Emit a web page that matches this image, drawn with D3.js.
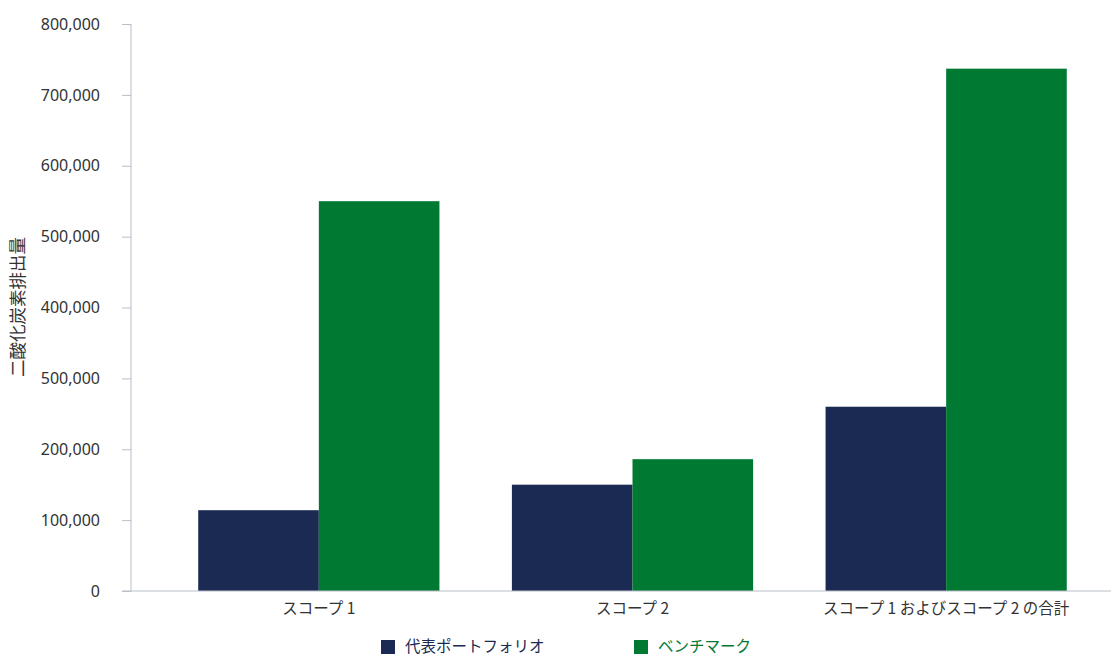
<!DOCTYPE html>
<html lang="ja">
<head>
  <meta charset="UTF-8">
  <title>二酸化炭素排出量</title>
  <script src="https://d3js.org/d3.v7.min.js"></script>
  <style>
    body { margin: 0; background: #fff; }
    svg { font-family: "Noto Sans CJK JP", "Noto Sans", sans-serif; }
    .tick text { fill: #333; font-size: 15.5px; font-family: "Noto Sans", "Noto Sans CJK JP", sans-serif; }
    .y-axis .tick text { font-size: 16px; }
  </style>
</head>
<body>
<svg id="chart" width="1112" height="656"></svg>

<script>
  // Categories, series and values
  const categories = ["スコープ 1", "スコープ 2", "スコープ 1 およびスコープ 2 の合計"];
  const seriesNames = ["代表ポートフォリオ", "ベンチマーク"];
  const portfolio = [114000, 150000, 260000];
  const benchmark = [550000, 186000, 737000];
  const tickValues = [0, 100000, 200000, 300000, 400000, 500000, 600000, 700000, 800000];
  // the 300,000 tick is labelled "500,000" in the original
  const tickLabels = ["0", "100,000", "200,000", "500,000", "400,000", "500,000", "600,000", "700,000", "800,000"];
  const colors = ["#1a2a52", "#007a33"];

  const svg = d3.select("#chart");

  const y = d3.scaleLinear().domain([0, 800000]).range([591, 24]);

  const x0 = d3.scaleBand()
    .domain(categories)
    .range([162, 1103])
    .paddingInner(0.231)
    .paddingOuter(0.1155);

  const x1 = d3.scaleBand()
    .domain(seriesNames)
    .range([0, x0.bandwidth()]);

  // y axis
  const yAxis = svg.append("g")
    .attr("class", "y-axis")
    .attr("transform", "translate(131,0)")
    .call(d3.axisLeft(y).tickValues(tickValues)
      .tickFormat((d, i) => tickLabels[i]).tickSize(9).tickPadding(22));
  yAxis.selectAll("line, path").attr("stroke", "#b8bec8");
  yAxis.select(".domain").attr("d", "M0,24V591");

  // bars
  const rows = categories.map((c, i) => ({ cat: c, vals: [portfolio[i], benchmark[i]] }));
  svg.append("g")
    .selectAll("g")
    .data(rows)
    .join("g")
    .attr("transform", d => `translate(${x0(d.cat)},0)`)
    .selectAll("rect")
    .data(d => d.vals.map((v, j) => ({ name: seriesNames[j], v: v, j: j })))
    .join("rect")
    .attr("x", d => x1(d.name))
    .attr("width", x1.bandwidth())
    .attr("y", d => y(d.v))
    .attr("height", d => y(0) - y(d.v))
    .attr("fill", d => colors[d.j]);

  // baseline / x axis
  const xAxis = svg.append("g")
    .attr("transform", "translate(0,591)")
    .call(d3.axisBottom(x0).tickSize(0).tickPadding(12));
  xAxis.selectAll(".tick text").style("font-family", "\"Noto Sans CJK JP\", sans-serif");
  xAxis.select(".domain").attr("d", "M122,0H1111").attr("stroke", "#b8bec8");

  // y axis title
  svg.append("text")
    .attr("transform", "translate(24,307) rotate(-90)")
    .attr("text-anchor", "middle")
    .attr("fill", "#333")
    .attr("font-size", 17.5)
    .text("二酸化炭素排出量");

  // legend
  const legendX = [381, 634];
  const legend = svg.append("g")
    .selectAll("g")
    .data(seriesNames)
    .join("g")
    .attr("transform", (d, i) => `translate(${legendX[i]},640)`);
  legend.append("rect")
    .attr("width", 14).attr("height", 14)
    .attr("fill", (d, i) => colors[i]);
  legend.append("text")
    .attr("x", 24).attr("y", 12)
    .attr("font-size", 15.5)
    .attr("fill", (d, i) => colors[i])
    .text(d => d);
</script>
</body>
</html>
